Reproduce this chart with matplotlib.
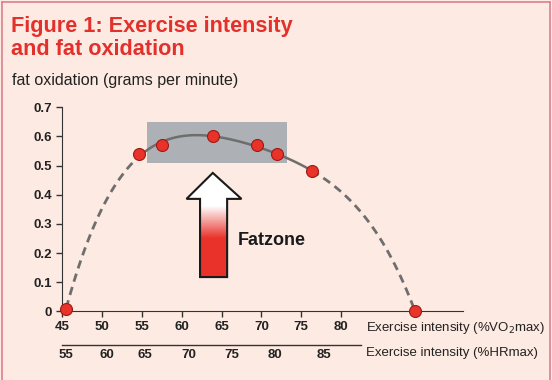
import numpy as np
import matplotlib
matplotlib.use("Agg")
import matplotlib.pyplot as plt
from matplotlib.patches import Polygon, Rectangle
from matplotlib.lines import Line2D
import matplotlib.transforms as mtransforms

# 数据
vo2 = [45.5, 54.6, 57.5, 63.9, 69.5, 72.0, 76.3, 89.3]
fat = [0.01, 0.54, 0.57, 0.60, 0.57, 0.54, 0.48, 0.0]
vo2_ticks = [45, 50, 55, 60, 65, 70, 75, 80]
y_ticks = [0, 0.1, 0.2, 0.3, 0.4, 0.5, 0.6, 0.7]
y_labels = ["0", "0.1", "0.2", "0.3", "0.4", "0.5", "0.6", "0.7"]
hr_labels = ["55", "60", "65", "70", "75", "80", "85"]
hr_pos = [45.5, 50.6, 55.4, 60.9, 66.3, 71.7, 77.8]  # 在VO2坐标上的位置
zone_x = [55.7, 73.2]
zone_y = [0.51, 0.65]

bg = "#fdeae2"
red = "#e8322a"

fig = plt.figure(figsize=(5.52, 3.8), dpi=100, facecolor=bg)
ax = fig.add_axes([0.1127, 0.1803, 0.726, 0.5374])
ax.set_facecolor(bg)

# 灰色区域
ax.add_patch(Rectangle((zone_x[0], zone_y[0]), zone_x[1] - zone_x[0], zone_y[1] - zone_y[0],
                       facecolor="#adb0b5", edgecolor="none", zorder=1))

# 曲线
coef = np.polyfit(vo2, fat, 4)
def seg(a, b):
    xs = np.linspace(a, b, 100)
    return xs, np.polyval(coef, xs)
x1, y1 = seg(vo2[0], vo2[1])
x2, y2 = seg(vo2[1], vo2[6])
x3, y3 = seg(vo2[6], vo2[-1])
ax.plot(x1, y1, color="#6e6e6e", lw=2, ls=(0, (3, 2)), zorder=2, clip_on=False)
ax.plot(x2, y2, color="#6e6e6e", lw=1.8, zorder=2)
ax.plot(x3, y3, color="#6e6e6e", lw=2, ls=(0, (3, 2)), zorder=2, clip_on=False)
ax.plot(vo2, fat, "o", ms=8.6, mfc=red, mec="#9b1a14", mew=0.8, zorder=5, clip_on=False)

# 箭头 (渐变)
arrow_pts = [(63.9, 0.475), (67.5, 0.386), (65.7, 0.386), (65.7, 0.118),
             (62.3, 0.118), (62.3, 0.386), (60.6, 0.386)]
poly = Polygon(arrow_pts, closed=True, facecolor="none", edgecolor="#1a1a1a", lw=1.5, zorder=4)
ax.add_patch(poly)
yy = np.linspace(0.475, 0.118, 200)
t = np.clip((0.36 - yy) / (0.36 - 0.25), 0, 1)
white = np.array([1, 1, 1])
redc = np.array(matplotlib.colors.to_rgb(red))
grad = (white[None, :] * (1 - t[:, None]) + redc[None, :] * t[:, None])[:, None, :]
im = ax.imshow(grad, extent=[60.6, 67.5, 0.118, 0.475], aspect="auto", zorder=3,
               interpolation="bilinear")
im.set_clip_path(poly)
ax.set_xlim(45, 95.3)
ax.set_ylim(0, 0.7)
ax.text(67.0, 0.245, "Fatzone", fontsize=13, fontweight="bold", color="#1a1a1a",
        va="center", ha="left", family="Liberation Sans")

# 坐标轴
for s in ["top", "right"]:
    ax.spines[s].set_visible(False)
ax.spines["left"].set_bounds(0, 0.7)
ax.spines["left"].set_color("#333333")
ax.spines["bottom"].set_color("#333333")
ax.set_yticks(y_ticks)
ax.set_yticklabels(y_labels)
ax.set_xticks(vo2_ticks)
ax.tick_params(axis="both", colors="#333333", labelcolor="#222222", length=4, width=1,
               labelsize=9.5)
for lab in ax.get_xticklabels() + ax.get_yticklabels():
    lab.set_fontweight("bold")
    lab.set_family("Liberation Sans")
ax.tick_params(axis="x", pad=3)

trans = mtransforms.blended_transform_factory(ax.transData, fig.transFigure)
for p, lab in zip(hr_pos, hr_labels):
    ax.text(p, 1 - 355 / 380, lab, transform=trans, ha="center", va="center",
            fontsize=9.5, fontweight="bold", color="#222222", family="Liberation Sans")
fig.add_artist(Line2D([61.6 / 552, 361 / 552], [1 - 344.7 / 380] * 2, color="#333333", lw=1))

fig.text(366 / 552, 1 - 328 / 380, "Exercise intensity (%VO$_2$max)", fontsize=9.5,
         color="#222222", va="center", ha="left", family="Liberation Sans")
fig.text(366 / 552, 1 - 353 / 380, "Exercise intensity (%HRmax)", fontsize=9.5,
         color="#222222", va="center", ha="left", family="Liberation Sans")

# 标题
fig.text(11 / 552, 1 - 32 / 380, "Figure 1: Exercise intensity", fontsize=15.6, fontweight="bold",
         color="#e3302a", ha="left", va="baseline", family="Liberation Sans")
fig.text(11 / 552, 1 - 55 / 380, "and fat oxidation", fontsize=15.6, fontweight="bold",
         color="#e3302a", ha="left", va="baseline", family="Liberation Sans")
fig.text(12 / 552, 1 - 85 / 380, "fat oxidation (grams per minute)", fontsize=11.5,
         color="#222222", ha="left", va="baseline", family="Liberation Sans")

# 边框
bc = "#d9808e"
fig.add_artist(Line2D([1.5 / 552, 1.5 / 552], [0, 1 - 1.5 / 380], color=bc, lw=1.2))
fig.add_artist(Line2D([1.5 / 552, 549.5 / 552], [1 - 1.5 / 380] * 2, color=bc, lw=1.2))
fig.add_artist(Line2D([549.5 / 552, 549.5 / 552], [0, 1 - 1.5 / 380], color=bc, lw=1.2))

fig.savefig("out.png", dpi=100, facecolor=bg)
